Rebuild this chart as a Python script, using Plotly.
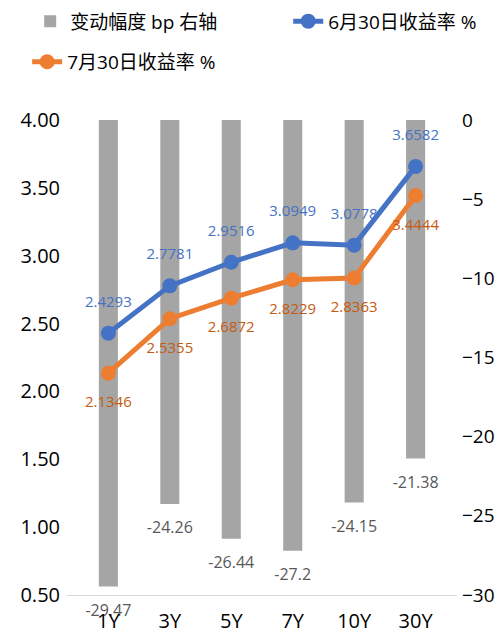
import plotly.graph_objects as go

# tenors
tenors = ["1Y", "3Y", "5Y", "7Y", "10Y", "30Y"]
# yields (%)
yield_jun30 = [2.4293, 2.7781, 2.9516, 3.0949, 3.0778, 3.6582]
yield_jul30 = [2.1346, 2.5355, 2.6872, 2.8229, 2.8363, 3.4444]
# change in bp (right axis)
change_bp = [-29.47, -24.26, -26.44, -27.2, -24.15, -21.38]

FONT = "Open Sans, Noto Sans CJK SC, sans-serif"
BLUE = "#4472C4"
ORANGE = "#ED7D31"
GRAY = "#A5A5A5"


def label_trace(x, y, text, pos, color, size, gap, yaxis):
    # invisible markers only used to push the labels away from the points
    return go.Scatter(
        x=x, y=y, yaxis=yaxis, mode="markers+text", text=text,
        textposition=pos, marker=dict(size=gap, opacity=0),
        textfont=dict(color=color, size=size, family=FONT),
        showlegend=False, cliponaxis=False, hoverinfo="skip",
    )


fig = go.Figure()

# bars hanging from 0 on the right axis (primary axis so lines draw on top)
fig.add_trace(go.Bar(
    x=tenors, y=change_bp, yaxis="y",
    name="变动幅度 bp 右轴", legend="legend",
    marker=dict(color=GRAY, line=dict(width=0)),
    width=0.31,
))
fig.add_trace(label_trace(tenors, change_bp, [f"{v:g}" for v in change_bp],
                          "bottom center", "#595959", 16, 26, "y"))

fig.add_trace(go.Scatter(
    x=tenors, y=yield_jun30, yaxis="y2", name="6月30日收益率 %", legend="legend2",
    mode="lines+markers",
    line=dict(color=BLUE, width=5),
    marker=dict(color=BLUE, size=15),
))
fig.add_trace(go.Scatter(
    x=tenors, y=yield_jul30, yaxis="y2", name="7月30日收益率 %", legend="legend3",
    mode="lines+markers",
    line=dict(color=ORANGE, width=5),
    marker=dict(color=ORANGE, size=15),
))
fig.add_trace(label_trace(tenors, yield_jun30, [f"{v:.4f}" for v in yield_jun30],
                          "top center", BLUE, 15, 35, "y2"))
fig.add_trace(label_trace(tenors, yield_jul30, [f"{v:.4f}" for v in yield_jul30],
                          "bottom center", "#C55A11", 15, 35, "y2"))

legend_style = dict(
    orientation="h", xanchor="left", yanchor="middle",
    xref="container", yref="container",
    font=dict(size=19, color="#000000"),
    bgcolor="rgba(0,0,0,0)",
)

fig.update_layout(
    width=504, height=634,
    margin=dict(l=59, r=55, t=112, b=47, autoexpand=False),
    paper_bgcolor="white", plot_bgcolor="white",
    font=dict(family=FONT, size=20, color="#000000"),
    showlegend=True,
    legend=dict(x=0.044, y=0.979, **legend_style),
    legend2=dict(x=0.556, y=0.979, **legend_style),
    legend3=dict(x=0.038, y=0.915, **legend_style),
    xaxis=dict(
        showgrid=False, showline=True, linecolor="#D9D9D9", linewidth=1,
        ticks="", tickfont=dict(size=20), ticklabelstandoff=8,
    ),
    yaxis=dict(
        range=[-30, 0], dtick=5, side="right",
        showgrid=False, zeroline=False, ticks="", showline=False,
        tickfont=dict(size=19), ticklabelstandoff=4,
    ),
    yaxis2=dict(
        range=[0.5, 4.0], dtick=0.5, tickformat=".2f",
        overlaying="y", side="left",
        showgrid=False, zeroline=False, ticks="", showline=False,
        tickfont=dict(size=20), ticklabelstandoff=6,
    ),
)

fig.write_html("out.html")
